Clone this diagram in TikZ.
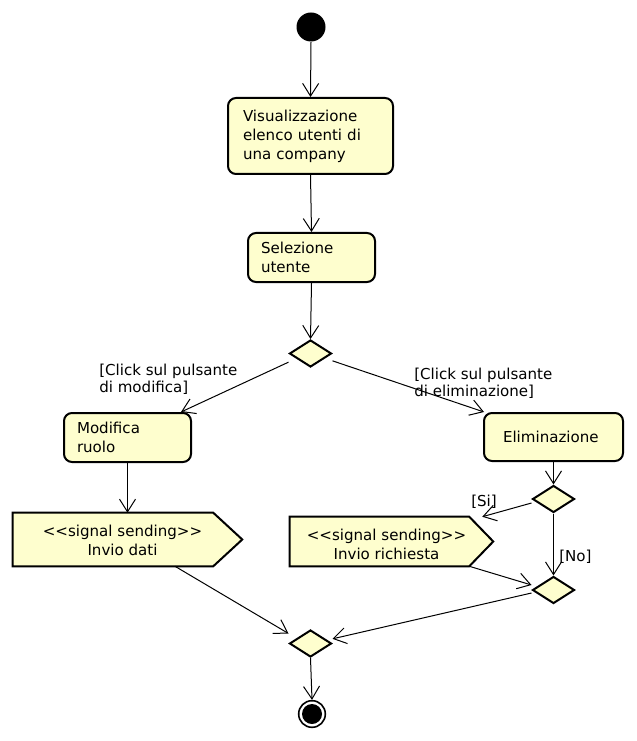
\documentclass[tikz,border=0pt]{standalone}
\usepackage{fontspec}
\setmainfont{DejaVu Sans}
\usetikzlibrary{arrows.meta,shapes.geometric}
\definecolor{umlfill}{HTML}{FEFECE}
\begin{document}
\begin{tikzpicture}[x=0.75pt,y=-0.75pt,
  every node/.style={font=\fontsize{11.3pt}{14.25pt}\selectfont},
  act/.style={draw=black, line width=1.5pt, fill=umlfill, rounded corners=6pt, align=left, inner ysep=0pt},
  dec/.style={diamond, draw=black, line width=1.5pt, fill=umlfill, minimum width=31.5pt, minimum height=20.25pt, inner sep=0pt},
  flow/.style={draw=black, line width=0.75pt, -{Straight Barb[length=9.5pt,width=12pt]}},
  guard/.style={inner sep=0pt, anchor=west, align=left, font=\fontsize{11.3pt}{13pt}\selectfont},
  sigbox/.style={inner sep=0pt},
  sigline/.style={draw=black, line width=1.5pt, fill=umlfill, line join=miter},
  sigtext/.style={inner sep=0pt, align=center},
]
\useasboundingbox (0,0) rectangle (636,741);

\node[circle, fill=black, minimum size=21.75pt, inner sep=0pt] (start) at (311,27) {};

\node[act, text width=101.25pt, inner xsep=11.25pt, minimum height=57pt] (b1) at (310.5,136)
  {Visualizzazione\\elenco utenti di\\una company};
\node[act, text width=75.75pt, inner xsep=9.75pt, minimum height=36.75pt] (b2) at (311.5,257.5)
  {Selezione\\utente};
\node[dec] (d1) at (310.5,353.5) {};
\node[act, text width=75.75pt, inner xsep=9.75pt, minimum height=36.75pt] (mod) at (127.5,437.5)
  {Modifica\\ruolo};
\node[act, text width=75.75pt, inner xsep=14.25pt, minimum height=36pt] (el) at (553.5,437)
  {Eliminazione};
\node[dec] (d2) at (553.5,499) {};
\node[dec] (d3) at (553.5,590) {};
\node[dec] (d4) at (310.5,643.5) {};

% signal sending 1
\node[sigbox, minimum width=171.75pt, minimum height=39.75pt] (s1) at (127.5,539.5) {};
\draw[sigline] (s1.north west) -- ([xshift=-21.75pt]s1.north east) -- (s1.east)
  -- ([xshift=-21.75pt]s1.south east) -- (s1.south west) -- cycle;
\node[sigtext] (s1t) at (122.5,540.5) {<\kern0pt<signal sending>\kern0pt>\\Invio dati};

% signal sending 2
\node[sigbox, minimum width=152.25pt, minimum height=36.75pt] (s2) at (391.5,541.5) {};
\draw[sigline] (s2.north west) -- ([xshift=-18pt]s2.north east) -- (s2.east)
  -- ([xshift=-18pt]s2.south east) -- (s2.south west) -- cycle;
\node[sigtext] (s2t) at (386.5,544) {<\kern0pt<signal sending>\kern0pt>\\Invio richiesta};

% final node
\node[circle, draw=black, line width=1.2pt, fill=white, minimum size=20pt, inner sep=0pt] (end) at (312,714) {};
\node[circle, fill=black, minimum size=15pt, inner sep=0pt] (endin) at (end.center) {};

% guards
\node[guard] (g1) at (99,379.5) {[Click sul pulsante\\di modifica]};
\node[guard] (g2) at (414,383) {[Click sul pulsante\\di eliminazione]};
\node[guard] (gsi) at (471,502) {[Si]};
\node[guard] (gno) at (559,557) {[No]};

% flows
\draw[flow] (start.south) -- (b1.north);
\draw[flow] (b1.south) -- (b2.north);
\draw[flow] (b2.south) -- (d1.north);
\draw[flow] ([yshift=-6.5pt]d1.west) -- ([xshift=-8.25pt]mod.north east);
\draw[flow] ([yshift=-5.5pt]d1.east) -- ([xshift=0.75pt]el.north west);
\draw[flow] (mod.south) -- (s1.north);
\draw[flow] (el.south) -- (d2.north);
\draw[flow] ([yshift=-3pt]d2.west) -- ([xshift=-8.25pt]s2.north east);
\draw[flow] (d2.south) -- (d3.north);
\draw[flow] ([xshift=-18pt]s2.south east) -- ([yshift=3.75pt]d3.west);
\draw[flow] ([yshift=-2.25pt]d3.west) -- ([yshift=3.5pt]d4.east);
\draw[flow] ([xshift=35.6pt]s1.south) -- ([yshift=7.5pt]d4.west);
\draw[flow] (d4.south) -- (end.north);
\end{tikzpicture}
\end{document}
